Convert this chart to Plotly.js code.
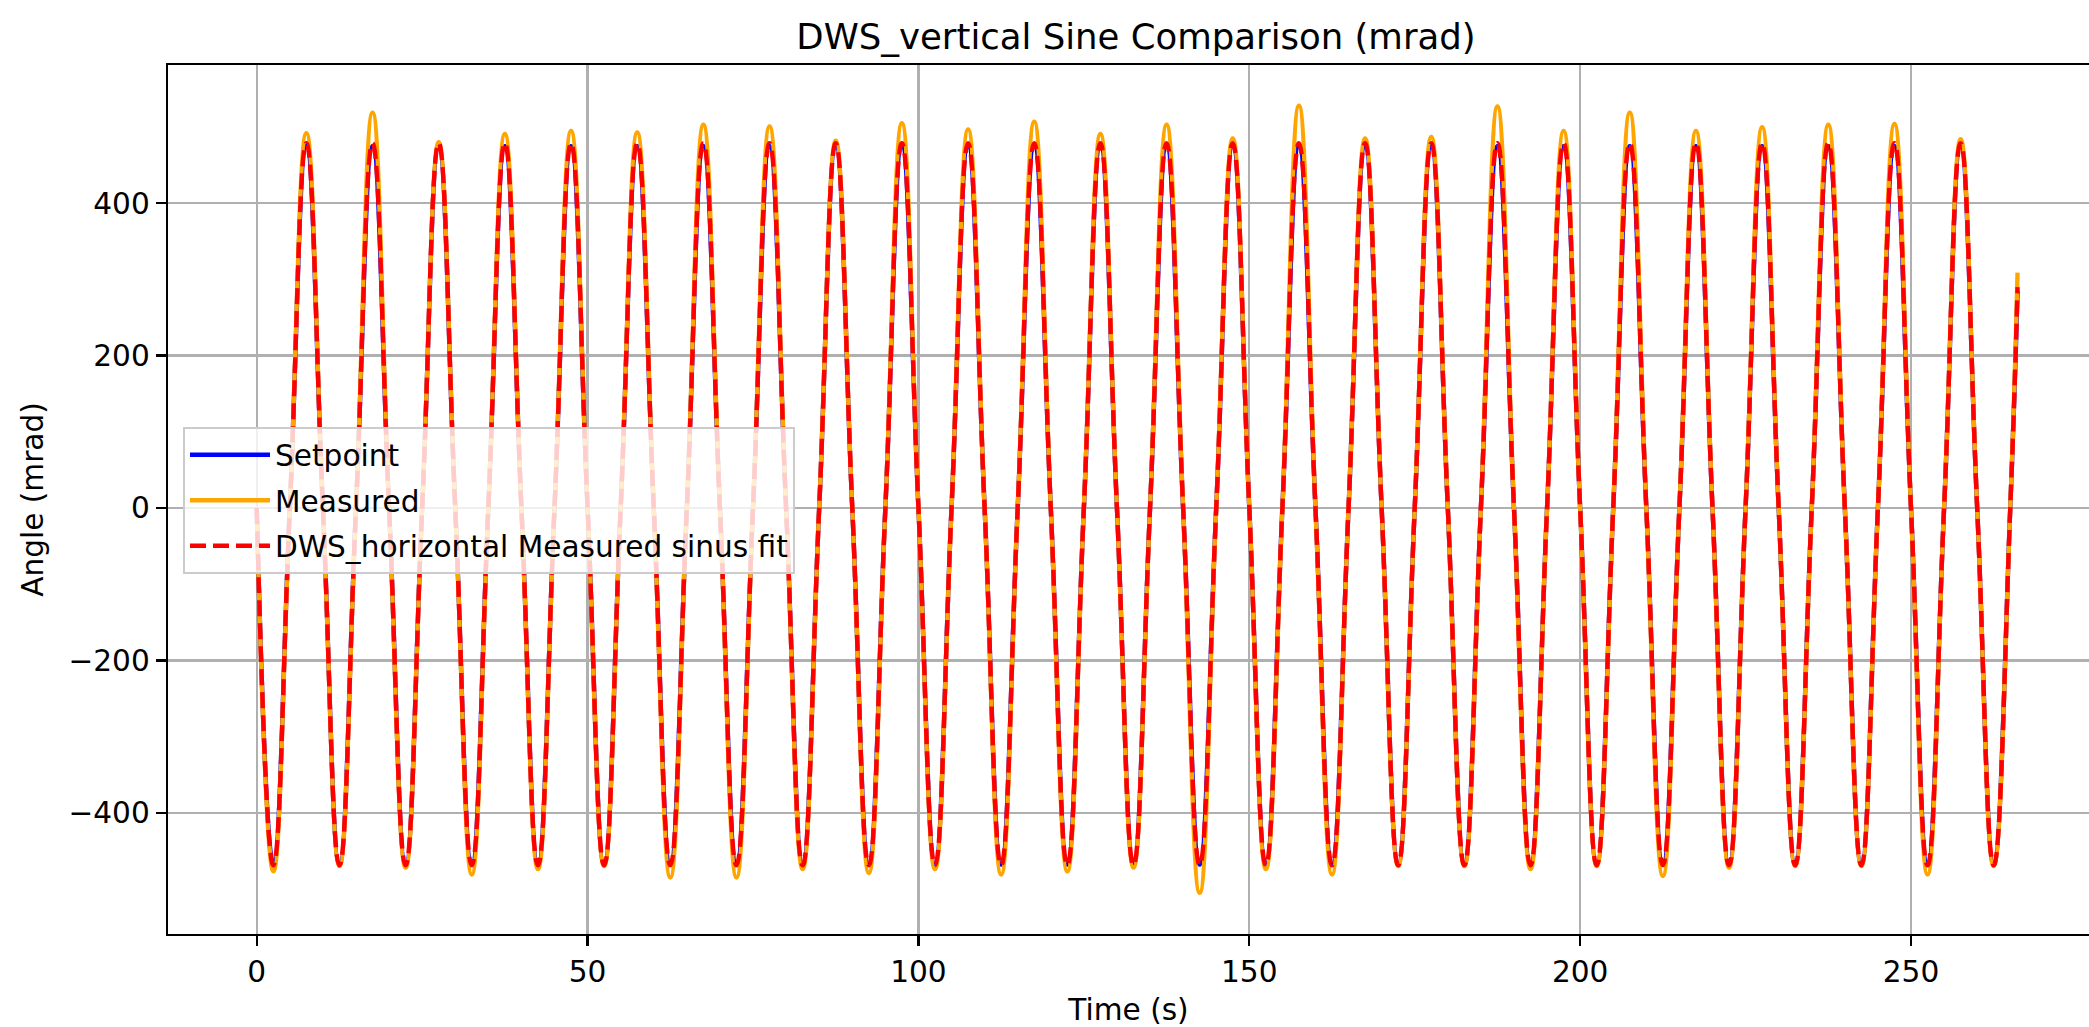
<!DOCTYPE html>
<html>
<head>
<meta charset="utf-8">
<script src="https://cdn.plot.ly/plotly-3.0.1.min.js"></script>
<style>
html,body{margin:0;padding:0;background:#fff;overflow:hidden;}
#chart{width:2089px;height:1027px;}
</style>
</head>
<body>
<div id="chart"></div>
<script>
// Time samples (s): zero crossings and extrema of each 10 s cycle, plus the last sample
const time = [0,2.5,5,7.5,10,12.5,15,17.5,20,22.5,25,27.5,30,32.5,35,37.5,40,42.5,45,47.5,
  50,52.5,55,57.5,60,62.5,65,67.5,70,72.5,75,77.5,80,82.5,85,87.5,90,92.5,95,97.5,
  100,102.5,105,107.5,110,112.5,115,117.5,120,122.5,125,127.5,130,132.5,135,137.5,140,142.5,145,147.5,
  150,152.5,155,157.5,160,162.5,165,167.5,170,172.5,175,177.5,180,182.5,185,187.5,190,192.5,195,197.5,
  200,202.5,205,207.5,210,212.5,215,217.5,220,222.5,225,227.5,230,232.5,235,237.5,240,242.5,245,247.5,
  250,252.5,255,257.5,260,262.5,265,266.1];

// Setpoint (mrad)
const setpoint = [
  0,-468,0,475, 0,-468,0,475, 0,-468,0,475, 0,-468,0,475, 0,-468,0,475,
  0,-468,0,475, 0,-468,0,475, 0,-468,0,475, 0,-468,0,475, 0,-468,0,475,
  0,-468,0,475, 0,-468,0,475, 0,-468,0,475, 0,-468,0,475, 0,-468,0,475,
  0,-468,0,475, 0,-468,0,475, 0,-468,0,475, 0,-468,0,475, 0,-468,0,475,
  0,-468,0,475, 0,-468,0,475, 0,-468,0,475, 0,-468,0,475, 0,-468,0,475,
  0,-468,0,475, 0,-468,0, 285];

// Measured (mrad)
const measured = [
  0,-477,0,492, 0,-470,0,519, 0,-472,0,480, 0,-481,0,491, 0,-474,0,495,
  0,-470,0,493, 0,-485,0,503, 0,-485,0,501, 0,-474,0,482, 0,-479,0,505,
  0,-474,0,497, 0,-481,0,507, 0,-477,0,491, 0,-472,0,503, 0,-505,0,485,
  0,-474,0,528, 0,-481,0,485, 0,-470,0,487, 0,-470,0,527, 0,-474,0,495,
  0,-470,0,519, 0,-483,0,495, 0,-472,0,500, 0,-470,0,503, 0,-470,0,504,
  0,-481,0,484, 0,-470,0, 309];

// DWS_horizontal Measured sinus fit (mrad)
const fit = [
  0,-469,0,479, 0,-469,0,479, 0,-469,0,479, 0,-469,0,479, 0,-469,0,479,
  0,-469,0,479, 0,-469,0,479, 0,-469,0,479, 0,-469,0,479, 0,-469,0,479,
  0,-469,0,479, 0,-469,0,479, 0,-469,0,479, 0,-469,0,479, 0,-469,0,479,
  0,-469,0,479, 0,-469,0,479, 0,-469,0,479, 0,-469,0,479, 0,-469,0,479,
  0,-469,0,479, 0,-469,0,479, 0,-469,0,479, 0,-469,0,479, 0,-469,0,479,
  0,-469,0,479, 0,-469,0, 290];

const xTicks = [0,50,100,150,200,250];
const yTicks = [-400,-200,0,200,400];

const FONT = "DejaVu Sans";
const FS = 29.6;

const traces = [
  {x: time, y: setpoint, name: "Setpoint", type: "scatter", mode: "lines",
   line: {color: "blue", width: 4.4, shape: "spline", smoothing: 1.3}, legendgroup: "a"},
  {x: time, y: measured, name: "Measured", type: "scatter", mode: "lines",
   line: {color: "orange", width: 4.4, shape: "spline", smoothing: 1.3}, legendgroup: "b"},
  {x: time, y: fit, name: "DWS_horizontal Measured sinus fit", type: "scatter", mode: "lines",
   line: {color: "red", width: 4.4, dash: "16px,7px", shape: "spline", smoothing: 1.3}, legendgroup: "c"}
];

const axisCommon = {
  showgrid: true, gridcolor: "#b0b0b0", gridwidth: 2.3,
  zeroline: false, showline: true, linecolor: "#000", linewidth: 2.3,
  ticks: "outside", ticklen: 10, tickwidth: 2.3, tickcolor: "#000",
  tickfont: {family: FONT, size: FS, color: "#000"}
};

const layout = {
  width: 2089, height: 1027,
  paper_bgcolor: "#fff", plot_bgcolor: "#fff",
  margin: {l: 168, r: 0, t: 65, b: 93},
  font: {family: FONT, color: "#000"},
  title: {text: "DWS_vertical Sine Comparison (mrad)", font: {family: FONT, size: 35.5, color: "#000"},
          xref: "container", x: 1136/2089, xanchor: "center",
          yref: "container", y: 1 - 37/1027, yanchor: "middle"},
  xaxis: Object.assign({}, axisCommon, {
    range: [-13.41, 276.9], tickmode: "array", tickvals: xTicks, ticktext: xTicks.map(String),
    mirror: true,
    title: {text: "Time (s)", font: {family: FONT, size: FS, color: "#000"}, standoff: 12}
  }),
  yaxis: Object.assign({}, axisCommon, {
    range: [-559.2, 581.5], tickmode: "array", tickvals: yTicks,
    ticktext: yTicks.map(v => v < 0 ? "\u2212" + Math.abs(v) : String(v)),
    title: {text: "Angle (mrad)", font: {family: FONT, size: FS, color: "#000"}, standoff: 16}
  }),
  showlegend: true,
  legend: {x: (183-168)/(2089-168), y: (934-427)/869, xanchor: "left", yanchor: "top",
           bgcolor: "rgba(255,255,255,0.8)", bordercolor: "#cccccc", borderwidth: 2,
           font: {family: FONT, size: FS, color: "#000"},
           traceorder: "grouped", tracegroupgap: 4, itemwidth: 80}
};

Plotly.newPlot("chart", traces, layout, {staticPlot: true, displayModeBar: false});
</script>
</body>
</html>
